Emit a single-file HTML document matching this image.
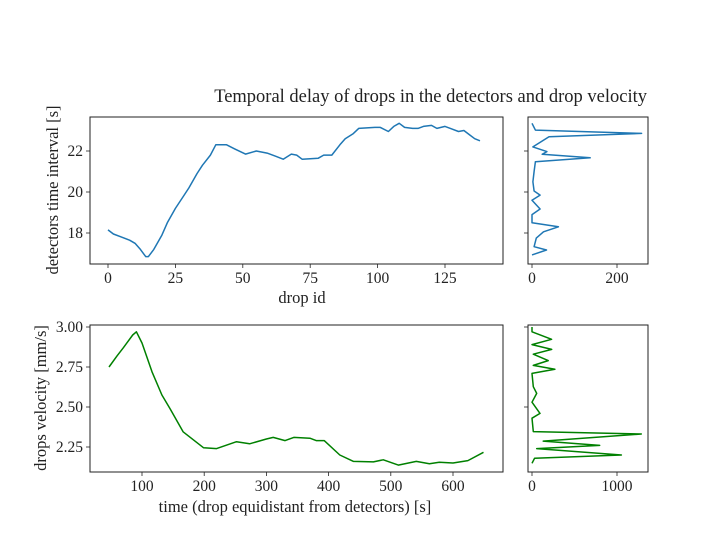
<!DOCTYPE html>
<html><head><meta charset="utf-8"><style>
body{margin:0;background:#fff}
svg{display:block;font-family:"Liberation Serif",serif}
</style></head><body>
<svg id="fig" width="720" height="540">
<text x="647" y="102" text-anchor="end" font-size="18.5" fill="#222">Temporal delay of drops in the detectors and drop velocity</text>
<text x="302" y="303" text-anchor="middle" font-size="16.5" fill="#222">drop id</text>
<text transform="translate(58,190) rotate(-90)" text-anchor="middle" font-size="16.5" fill="#222">detectors time interval [s]</text>
<text x="295" y="512" text-anchor="middle" font-size="16.5" fill="#222">time (drop equidistant from detectors) [s]</text>
<text transform="translate(46,398) rotate(-90)" text-anchor="middle" font-size="16.5" fill="#222">drops velocity [mm/s]</text>
</svg>
<script>
const dropIds=[0,2,5,8,10,12,14,15,17,20,22,25,28,30,33,35,38,40,44,47,51,55,59,62,65,68,70,72,78,80,83,86,88,91,93,99,101,104,106,108,110,113,115,117,120,122,125,127,130,132,134,136,138];
const delays=[18.15,17.95,17.8,17.65,17.5,17.2,16.85,16.85,17.2,17.9,18.5,19.2,19.8,20.2,20.9,21.3,21.8,22.3,22.3,22.1,21.85,22.0,21.9,21.75,21.6,21.85,21.8,21.6,21.65,21.8,21.8,22.3,22.6,22.85,23.1,23.15,23.15,22.95,23.2,23.35,23.15,23.1,23.1,23.2,23.25,23.1,23.2,23.1,22.95,23.0,22.8,22.6,22.5];
const times=[47,60,70,85,91,100,116,132,145,166,199,220,252,273,300,311,330,344,370,380,393,418,440,472,488,512,541,562,578,600,624,649];
const velocities=[2.75,2.82,2.87,2.95,2.97,2.90,2.72,2.575,2.49,2.345,2.245,2.24,2.283,2.27,2.30,2.31,2.29,2.31,2.305,2.29,2.29,2.2,2.16,2.157,2.17,2.137,2.16,2.145,2.155,2.15,2.165,2.217];
const delayHistVals=[16.93,17.17,17.33,17.75,18.06,18.3,18.5,18.9,19.17,19.6,19.85,20.05,20.5,21.0,21.48,21.67,21.84,21.97,22.2,22.7,22.86,23.02,23.35];
const delayHistCounts=[0,34,5,10,27,62,0,0,19,0,19,5,2,5,8,137,24,35,2,40,258,8,0];
const velHistVals=[2.148,2.18,2.2,2.24,2.26,2.287,2.331,2.346,2.43,2.46,2.53,2.585,2.627,2.71,2.736,2.76,2.79,2.83,2.86,2.89,2.923,2.97,3.0];
const velHistCounts=[0,31,1052,55,797,132,1286,15,0,94,0,55,15,0,269,15,191,15,232,0,231,0,0];
const topXTicks=[0,25,50,75,100,125];
const topYTicks=[18,20,22];
const botXTicks=[100,200,300,400,500,600];
const botYTicks=[2.25,2.50,2.75,3.00];
const topHistTicks=[0,200];
const botHistTicks=[0,1000];
const NS="http://www.w3.org/2000/svg";
const svg=document.getElementById('fig');
function mk(tag,attrs,parent){const e=document.createElementNS(NS,tag);for(const k in attrs)e.setAttribute(k,attrs[k]);(parent||svg).appendChild(e);return e;}
function lin(d0,d1,r0,r1){return v=>r0+(v-d0)/(d1-d0)*(r1-r0);}
function drawAxes(name,x0,y0,x1,y1,sx,sy,xt,yt,fmtX,fmtY,xlab,ylab){
  const g=mk('g',{});
  
  
  xt.forEach(t=>{const x=sx(t);
    const l=mk('line',{x1:x,x2:x,y1:y1,y2:y1+4,stroke:'#222','stroke-width':0.8},g);
    
    if(xlab){const tx=mk('text',{x:x,y:y1+19,'text-anchor':'middle','font-size':15.5,fill:'#222'},g);tx.textContent=fmtX(t);
    }});
  yt.forEach(t=>{const y=sy(t);
    const l=mk('line',{x1:x0-4,x2:x0,y1:y,y2:y,stroke:'#222','stroke-width':0.8},g);
    
    if(ylab){const tx=mk('text',{x:x0-7,y:y+5,'text-anchor':'end','font-size':15.5,fill:'#222'},g);tx.textContent=fmtY(t);
    }});
  return g;
}
function frame(name,x0,y0,x1,y1){const r=mk('rect',{x:x0,y:y0,width:x1-x0,height:y1-y0,fill:'none',stroke:'#222','stroke-width':1});
  }
function line(name,xs,ys,sx,sy,color){const p=mk('polyline',{points:xs.map((x,i)=>sx(x).toFixed(1)+','+sy(ys[i]).toFixed(1)).join(' '),fill:'none',stroke:color,'stroke-width':1.5,'stroke-linejoin':'round'});
  }
const TL=90,TR=503,TT=117,TB=264,BT=325,BB=472,RL=528,RR=648;
const sxTop=lin(0,125,108,445), syTop=lin(18,22,233,151);
const sxBot=lin(100,600,142,453), syBot=lin(2.25,3.0,447,327);
const sxHT=lin(0,200,532,617), sxHB=lin(0,1000,532,617);
drawAxes('top-main-axes',TL,TT,TR,TB,sxTop,syTop,topXTicks,topYTicks,String,String,true,true);
line('delay-line',dropIds,delays,sxTop,syTop,'#1f77b4');
frame('top-main-frame',TL,TT,TR,TB);
drawAxes('bottom-main-axes',TL,BT,TR,BB,sxBot,syBot,botXTicks,botYTicks,String,t=>t.toFixed(2),true,true);
line('velocity-line',times,velocities,sxBot,syBot,'green');
frame('bottom-main-frame',TL,BT,TR,BB);
drawAxes('top-hist-axes',RL,TT,RR,TB,sxHT,syTop,topHistTicks,topYTicks,String,String,true,false);
line('delay-histogram-line',delayHistCounts,delayHistVals,sxHT,syTop,'#1f77b4');
frame('top-hist-frame',RL,TT,RR,TB);
drawAxes('bottom-hist-axes',RL,BT,RR,BB,sxHB,syBot,botHistTicks,[2.5,3.0],String,String,true,false);
line('velocity-histogram-line',velHistCounts,velHistVals,sxHB,syBot,'green');
frame('bottom-hist-frame',RL,BT,RR,BB);
</script>
</body></html>
